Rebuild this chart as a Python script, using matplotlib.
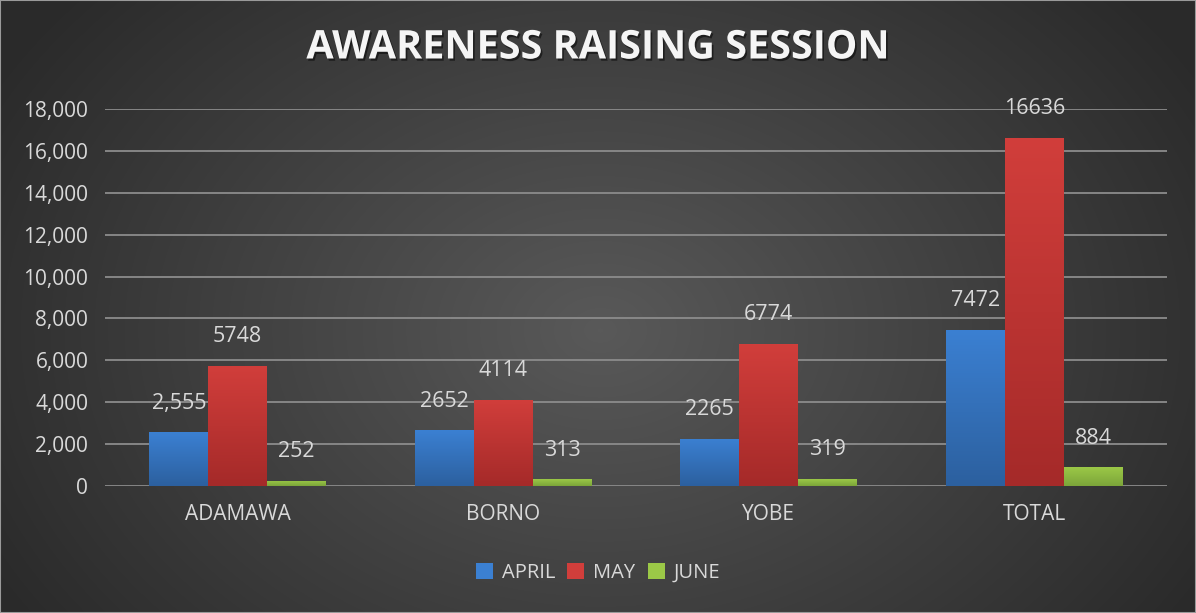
"""
Awareness raising session chart - monthly counts per state
"""
import matplotlib
matplotlib.use('Agg')
import matplotlib.pyplot as plt
import matplotlib.patheffects as pe
from matplotlib.colors import LinearSegmentedColormap
from matplotlib.ticker import FuncFormatter
import numpy as np

categories = ['ADAMAWA', 'BORNO', 'YOBE', 'TOTAL']
months = ['APRIL', 'MAY', 'JUNE']
april = [2555, 2652, 2265, 7472]
may = [5748, 4114, 6774, 16636]
june = [252, 313, 319, 884]
april_labels = ['2,555', '2652', '2265', '7472']
may_labels = ['5748', '4114', '6774', '16636']
june_labels = ['252', '313', '319', '884']

# top / bottom colour for each series gradient
grad_colors = [('#3b80d2', '#2c609f'), ('#d13e3b', '#a52a29'), ('#9bc847', '#7ca53a')]
text_col = '#d9d9d9'
font = 'Open Sans'

fig = plt.figure(figsize=(11.96, 6.13), dpi=100)

# radial background
bg = fig.add_axes([0, 0, 1, 1], zorder=-10)
yy, xx = np.mgrid[0:613, 0:1196]
r = np.sqrt(((xx - 600) / 700.0) ** 2 + ((yy - 330) / 520.0) ** 2)
r = np.clip(r, 0, 1)
bg_cmap = LinearSegmentedColormap.from_list('bg', ['#595959', '#2a2a2a'])
bg.imshow(r, cmap=bg_cmap, aspect='auto', extent=[0, 1, 0, 1], vmin=0, vmax=1)
bg.set_xlim(0, 1)
bg.set_ylim(0, 1)
bg.axis('off')
bg.add_patch(plt.Rectangle((0, 0), 1, 1, fill=False, edgecolor='#9a9a9a', lw=1.5))

ax = fig.add_axes([105 / 1196, 1 - 486 / 613, 1062 / 1196, 377 / 613])
ax.patch.set_alpha(0)

x = np.arange(len(categories))
w = 0.222
series = [april, may, june]
labels = [april_labels, may_labels, june_labels]

for i, (vals, labs) in enumerate(zip(series, labels)):
    xs = x + (i - 1) * w
    bars = ax.bar(xs, vals, width=w, color=grad_colors[i][0], label=months[i], zorder=3)
    cmap = LinearSegmentedColormap.from_list('g%d' % i, [grad_colors[i][1], grad_colors[i][0]])
    for b, lab in zip(bars, labs):
        bx, by = b.get_x(), b.get_y()
        bw, bh = b.get_width(), b.get_height()
        img = ax.imshow(np.linspace(0, 1, 100).reshape(-1, 1), cmap=cmap, aspect='auto',
                        extent=[bx, bx + bw, by, by + bh], origin='lower', zorder=3)
        img.set_clip_path(b)
        ax.text(bx + bw / 2, bh + 1400, lab, ha='center', va='center', color=text_col,
                fontsize=15.5, family=font, zorder=5)

ax.set_xlim(-0.5, 3.5)
ax.set_ylim(0, 18000)
ax.set_yticks(np.arange(0, 18001, 2000))
ax.yaxis.set_major_formatter(FuncFormatter(lambda v, p: f'{int(v):,}'))
ax.set_xticks(x)
ax.set_xticklabels(categories)
ax.grid(axis='y', color='#8c8c8c', lw=1.3, zorder=0)
ax.tick_params(axis='both', length=0, colors=text_col, labelsize=15, pad=12)
ax.tick_params(axis='x', pad=13)
for t in ax.get_xticklabels() + ax.get_yticklabels():
    t.set_family(font)
for s in ax.spines.values():
    s.set_visible(False)

leg = fig.legend(loc='center', bbox_to_anchor=(598 / 1196, 1 - 573 / 613), ncol=3, frameon=False,
                 handlelength=0.85, handleheight=0.85, handletextpad=0.45, columnspacing=0.6,
                 prop={'family': font, 'size': 14.5})
for t in leg.get_texts():
    t.set_color(text_col)

fig.text(598 / 1196, 1 - 48 / 613, 'AWARENESS RAISING SESSION', ha='center', va='center',
         color='#f5f5f5', fontsize=28.5, fontweight='bold', family=font,
         path_effects=[pe.withSimplePatchShadow(offset=(1.2, -1.6), shadow_rgbFace='black', alpha=0.5)])

plt.savefig('out.png', dpi=100)
plt.close()
